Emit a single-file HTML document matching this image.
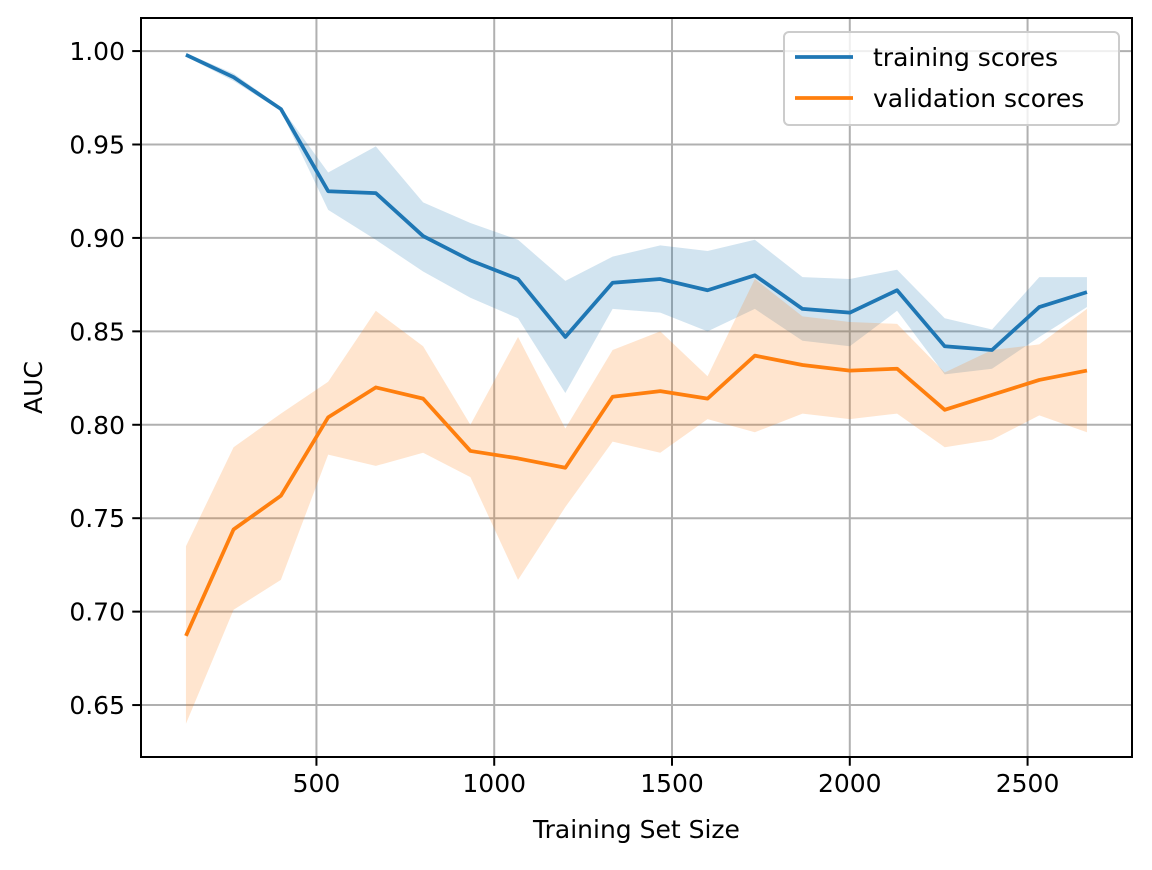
<!DOCTYPE html>
<html><head><meta charset="utf-8"><style>
body{margin:0;background:#fff}
svg text{font-family:"DejaVu Sans","Liberation Sans",sans-serif;font-size:25px;fill:#000}
</style></head><body>
<svg id="chart" width="1152" height="865" xmlns="http://www.w3.org/2000/svg"></svg>
<script>
const sizes=[133,267,400,533,667,800,933,1067,1200,1333,1467,1600,1733,1867,2000,2133,2267,2400,2533,2667];
const trainMean=[0.998,0.986,0.969,0.925,0.924,0.901,0.888,0.878,0.847,0.876,0.878,0.872,0.880,0.862,0.860,0.872,0.842,0.840,0.863,0.871];
const trainUpper=[0.999,0.988,0.970,0.935,0.949,0.919,0.908,0.899,0.877,0.890,0.896,0.893,0.899,0.879,0.878,0.883,0.857,0.851,0.879,0.879];
const trainLower=[0.997,0.984,0.968,0.915,0.899,0.882,0.868,0.857,0.817,0.862,0.860,0.850,0.862,0.845,0.842,0.861,0.827,0.830,0.847,0.863];
const valMean=[0.687,0.744,0.762,0.804,0.820,0.814,0.786,0.782,0.777,0.815,0.818,0.814,0.837,0.832,0.829,0.830,0.808,0.816,0.824,0.829];
const valUpper=[0.735,0.788,0.806,0.823,0.861,0.842,0.800,0.847,0.798,0.840,0.850,0.826,0.878,0.858,0.855,0.854,0.828,0.840,0.843,0.862];
const valLower=[0.640,0.701,0.717,0.784,0.778,0.785,0.772,0.717,0.756,0.791,0.785,0.803,0.796,0.806,0.803,0.806,0.788,0.792,0.805,0.796];
const xTicks=[500,1000,1500,2000,2500];
const yTicks=[0.65,0.70,0.75,0.80,0.85,0.90,0.95,1.00];

const L=141,R=1132,T=18,B=757;
const xmin=6.6,xmax=2793.7,ymin=0.6222,ymax=1.0177;
const X=v=>L+(v-xmin)/(xmax-xmin)*(R-L);
const Y=v=>B-(v-ymin)/(ymax-ymin)*(B-T);
const svg=document.getElementById('chart');
const NS='http://www.w3.org/2000/svg';
function mk(tag,attrs,name,txt){const e=document.createElementNS(NS,tag);for(const k in attrs)e.setAttribute(k,attrs[k]);


if(txt!==undefined)e.textContent=txt;svg.appendChild(e);return e;}
// grid
xTicks.forEach(t=>mk('line',{x1:X(t),x2:X(t),y1:T,y2:B,stroke:'#b0b0b0','stroke-width':2},'x-grid-line'));
yTicks.forEach(t=>mk('line',{x1:L,x2:R,y1:Y(t),y2:Y(t),stroke:'#b0b0b0','stroke-width':2},'y-grid-line'));
function band(up,lo,color,name){let d='M'+sizes.map((s,i)=>X(s)+','+Y(up[i])).join('L');
for(let i=sizes.length-1;i>=0;i--)d+='L'+X(sizes[i])+','+Y(lo[i]);
mk('path',{d:d+'Z',fill:color,'fill-opacity':0.2,stroke:'none'},name);}
function line(m,color,name){mk('path',{d:'M'+sizes.map((s,i)=>X(s)+','+Y(m[i])).join('L'),fill:'none',stroke:color,'stroke-width':3.75,'stroke-linejoin':'round'},name);}
band(trainUpper,trainLower,'#1f77b4','training-band');
band(valUpper,valLower,'#ff7f0e','validation-band');
line(trainMean,'#1f77b4','training-line');
line(valMean,'#ff7f0e','validation-line');
mk('rect',{x:L,y:T,width:R-L,height:B-T,fill:'none',stroke:'#000','stroke-width':2},'plot-frame');
xTicks.forEach(t=>{mk('line',{x1:X(t),x2:X(t),y1:B,y2:B+8.75,stroke:'#000','stroke-width':2},'x-tick');
mk('text',{x:X(t),y:B+35,'text-anchor':'middle'},'x-tick-label',String(t));});
yTicks.forEach(t=>{mk('line',{x1:L,x2:L-8.75,y1:Y(t),y2:Y(t),stroke:'#000','stroke-width':2},'y-tick');
mk('text',{x:L-16,y:Y(t)+9,'text-anchor':'end'},'y-tick-label',t.toFixed(2));});
mk('text',{x:(L+R)/2,y:838,'text-anchor':'middle'},'x-axis-title','Training Set Size');
mk('text',{x:42,y:(T+B)/2,'text-anchor':'middle',transform:'rotate(-90 42 '+((T+B)/2)+')'},'y-axis-title','AUC');
// legend
mk('rect',{x:784,y:32,width:335,height:93,rx:5,fill:'#fff','fill-opacity':0.8,stroke:'#cccccc','stroke-width':2},'legend-box');
mk('line',{x1:795,x2:853,y1:57,y2:57,stroke:'#1f77b4','stroke-width':3.75},'legend-training-swatch');
mk('text',{x:873,y:66},'legend-training-label','training scores');
mk('line',{x1:795,x2:853,y1:98,y2:98,stroke:'#ff7f0e','stroke-width':3.75},'legend-validation-swatch');
mk('text',{x:873,y:107},'legend-validation-label','validation scores');
</script>
</body></html>
